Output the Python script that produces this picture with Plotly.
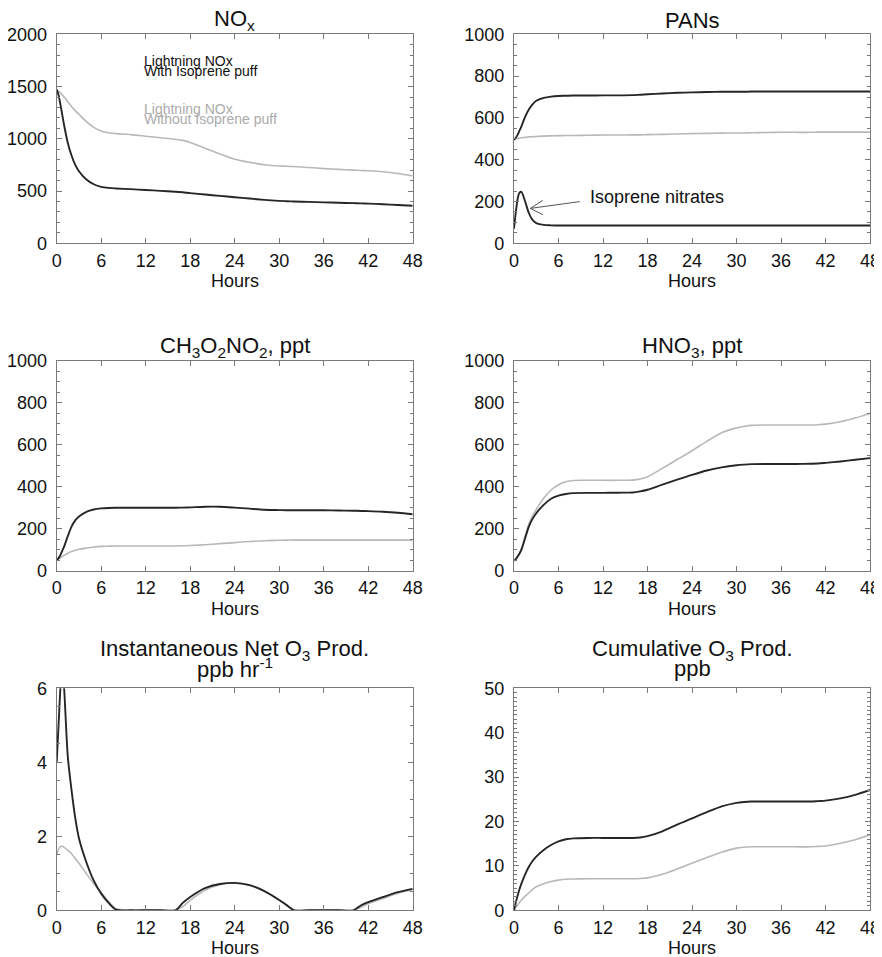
import plotly.graph_objects as go

# ---------------- data ----------------
hours = [0, 0.25, 0.5, 0.75, 1, 1.5, 2, 2.5, 3, 4, 5, 6, 7, 8, 10, 12, 14, 16, 17, 18,
         20, 22, 24, 26, 28, 30, 31, 32, 34, 36, 38, 40, 41, 42, 44, 46, 48]
x_ticks = [0, 6, 12, 18, 24, 30, 36, 42, 48]

nox_with = [1470, 1420, 1330, 1230, 1130, 960, 840, 750, 690, 610, 565, 540, 530, 525, 518, 510,
            502, 494, 488, 480, 467, 454, 441, 428, 416, 406, 403, 400, 396, 392, 388, 384,
            382, 380, 374, 367, 360]
nox_without = [1470, 1455, 1440, 1420, 1400, 1355, 1310, 1270, 1235, 1165, 1110, 1075, 1058,
               1050, 1040, 1025, 1010, 995, 985, 965, 910, 855, 805, 775, 752, 740, 738, 735,
               725, 715, 707, 700, 697, 694, 685, 668, 645]

pans_with = [495, 505, 520, 540, 560, 605, 640, 665, 682, 696, 702, 705, 706, 707, 707, 708,
             708, 709, 711, 713, 717, 720, 722, 724, 725, 725, 725, 726, 726, 726, 726, 726,
             726, 726, 726, 726, 726]
pans_without = [497, 499, 501, 503, 505, 507, 509, 510, 511, 513, 514, 515, 516, 516, 517, 518,
                518, 519, 519, 520, 521, 523, 525, 526, 527, 528, 528, 529, 530, 531, 531, 531,
                532, 532, 532, 532, 532]
isoprene_nitrates = [70, 150, 215, 242, 246, 200, 145, 112, 97, 88, 86, 85, 85, 85, 85, 85,
                     85, 85, 85, 85, 85, 85, 85, 85, 85, 85, 85, 85, 85, 85, 85, 85,
                     85, 85, 85, 85, 85]

mpn_with = [50, 60, 75, 95, 115, 165, 210, 240, 258, 281, 292, 297, 299, 300, 300, 300, 300,
            300, 301, 302, 305, 305, 301, 296, 291, 289, 288, 288, 288, 288, 287, 286, 285,
            284, 281, 276, 269]
mpn_without = [50, 55, 61, 67, 73, 83, 91, 97, 102, 108, 113, 116, 117, 118, 118, 118, 118,
               118, 119, 120, 124, 129, 134, 139, 143, 145, 146, 146, 146, 146, 146, 146, 146,
               146, 146, 146, 146]

hno3_with = [48, 55, 68, 82, 100, 155, 210, 247, 274, 314, 343, 358, 366, 370, 371, 371, 372,
             373, 378, 386, 410, 434, 457, 478, 493, 503, 506, 508, 509, 509, 509, 510, 511,
             514, 521, 529, 537]
hno3_without = [48, 56, 70, 86, 105, 165, 222, 262, 292, 345, 385, 410, 424, 430, 431, 431,
                431, 432, 437, 448, 488, 530, 572, 617, 658, 681, 688, 693, 695, 695, 695, 695,
                696, 699, 710, 728, 750]

o3prod_with = [4.0, 5.0, 6.0, 6.6, 6.0, 4.15, 3.25, 2.5, 1.95, 1.3, 0.8, 0.45, 0.2, 0.02, 0, 0,
               0, 0, 0.2, 0.36, 0.6, 0.71, 0.74, 0.68, 0.52, 0.28, 0.14, 0.0, 0, 0, 0, 0,
               0.13, 0.22, 0.36, 0.49, 0.58]
o3prod_without = [1.5, 1.65, 1.72, 1.73, 1.7, 1.62, 1.53, 1.4, 1.27, 0.99, 0.72, 0.48, 0.24,
                  0.04, 0, 0, 0, 0, 0.1, 0.27, 0.54, 0.69, 0.73, 0.68, 0.52, 0.28, 0.14, 0.01,
                  0, 0, 0, 0, 0.08, 0.18, 0.32, 0.46, 0.56]

o3cum_with = [0, 1.8, 3.4, 4.8, 6.0, 8.1, 9.8, 11.1, 12.1, 13.6, 14.7, 15.5, 16.0, 16.2, 16.3,
              16.3, 16.3, 16.3, 16.4, 16.7, 17.8, 19.3, 20.7, 22.1, 23.4, 24.2, 24.4, 24.5,
              24.5, 24.5, 24.5, 24.5, 24.6, 24.7, 25.2, 26.0, 27.1]
o3cum_without = [0, 0.6, 1.2, 1.8, 2.3, 3.2, 3.9, 4.7, 5.3, 6.0, 6.5, 6.8, 7.0, 7.05, 7.1, 7.1,
                 7.1, 7.1, 7.15, 7.3, 8.1, 9.3, 10.6, 11.9, 13.1, 14.0, 14.2, 14.3, 14.3, 14.3,
                 14.3, 14.3, 14.4, 14.5, 15.1, 15.9, 17.0]

panel_titles = [["NO<sub>x</sub>"], ["PANs"], ["CH<sub>3</sub>O<sub>2</sub>NO<sub>2</sub>, ppt"],
                ["HNO<sub>3</sub>, ppt"],
                ["Instantaneous Net O<sub>3</sub> Prod.", "ppb hr<sup>-1</sup>"],
                ["Cumulative O<sub>3</sub> Prod.", "ppb"]]
y_ranges = [[0, 2000], [0, 1000], [0, 1000], [0, 1000], [0, 6], [0, 50]]
y_dticks = [500, 200, 200, 200, 2, 10]
y_minor = [100, 50, 50, 50, 0.5, 1]
x_title = "Hours"
legend_with = ["Lightning NOx", "With Isoprene puff"]
legend_without = ["Lightning NOx", "Without Isoprene puff"]
nitrate_label = "Isoprene nitrates"

series = [
    (nox_with, nox_without),
    (pans_with, pans_without),
    (mpn_with, mpn_without),
    (hno3_with, hno3_without),
    (o3prod_with, o3prod_without),
    (o3cum_with, o3cum_without),
]

# ---------------- layout (page pixels) ----------------
PAGE_W, PAGE_H = 882, 957
OFF = 8  # default body margin of the html page
W, H = PAGE_W - OFF, PAGE_H - OFF
boxes = [  # left, right, top, bottom in page px
    (56.7, 412.7, 34.3, 243.3),
    (514.0, 870.0, 34.3, 243.3),
    (56.7, 412.7, 361.0, 570.7),
    (514.0, 870.0, 361.0, 570.7),
    (56.7, 412.7, 688.3, 910.3),
    (514.0, 870.0, 688.3, 910.3),
]
FONT = "Liberation Sans, Arial, Helvetica, sans-serif"
BLACK = "#262626"
GRAY = "#b8b8b8"
AXC = "#7a7a7a"


def px(x):
    return (x - OFF) / W


def py(y):
    return 1 - (y - OFF) / H


fig = go.Figure()
layout = dict(width=W, height=H, margin=dict(l=0, r=0, t=0, b=0),
              paper_bgcolor="white", plot_bgcolor="white", showlegend=False,
              font=dict(family=FONT, color="#111"))
annotations = []

for i, (box, (s_with, s_without)) in enumerate(zip(boxes, series)):
    n = i + 1
    xa = "x" if n == 1 else f"x{n}"
    ya = "y" if n == 1 else f"y{n}"
    l, r, t, b = box
    fig.add_trace(go.Scatter(x=hours, y=s_without, mode="lines", xaxis=xa, yaxis=ya,
                             line=dict(color=GRAY, width=1.6, shape="spline", smoothing=0.8),
                             hoverinfo="skip"))
    fig.add_trace(go.Scatter(x=hours, y=s_with, mode="lines", xaxis=xa, yaxis=ya,
                             line=dict(color=BLACK, width=1.9, shape="spline", smoothing=0.8),
                             hoverinfo="skip"))
    if n == 2:
        fig.add_trace(go.Scatter(x=hours, y=isoprene_nitrates, mode="lines", xaxis=xa, yaxis=ya,
                                 line=dict(color=BLACK, width=1.9, shape="spline", smoothing=0.8),
                                 hoverinfo="skip"))
    xname = "xaxis" if n == 1 else f"xaxis{n}"
    yname = "yaxis" if n == 1 else f"yaxis{n}"
    layout[xname] = dict(domain=[px(l), px(r)], anchor=ya, range=[0, 48], tickvals=x_ticks,
                         ticks="inside", ticklen=5, tickwidth=1.2, tickcolor=AXC,
                         showline=True, linecolor=AXC, linewidth=1.3, mirror="allticks",
                         showgrid=False, zeroline=False, automargin=False,
                         tickfont=dict(family=FONT, size=18, color="#111"),
                         ticklabelstandoff=1)
    layout[yname] = dict(domain=[py(b), py(t)], anchor=xa, range=y_ranges[i], dtick=y_dticks[i],
                         tick0=0, ticks="inside", ticklen=5, tickwidth=1.2, tickcolor=AXC,
                         showline=True, linecolor=AXC, linewidth=1.3, mirror="allticks",
                         showgrid=False, zeroline=False, automargin=False,
                         tickfont=dict(family=FONT, size=18, color="#111"),
                         ticklabelstandoff=5,
                         minor=dict(dtick=y_minor[i], tick0=0, ticks="inside", ticklen=3,
                                    tickwidth=1, tickcolor=AXC, showgrid=False))
    cx = (l + r) / 2
    title_lines = panel_titles[i]
    if len(title_lines) == 1:
        annotations.append(dict(text=title_lines[0], x=px(cx), y=py(t - 14), xref="paper",
                                yref="paper", showarrow=False, xanchor="center", yanchor="middle",
                                font=dict(family=FONT, size=22, color="#111")))
    else:
        annotations.append(dict(text=title_lines[0], x=px(cx), y=py(t - 38), xref="paper",
                                yref="paper", showarrow=False, xanchor="center", yanchor="middle",
                                font=dict(family=FONT, size=22, color="#111")))
        annotations.append(dict(text=title_lines[1], x=px(cx), y=py(t - 20), xref="paper",
                                yref="paper", showarrow=False, xanchor="center", yanchor="middle",
                                font=dict(family=FONT, size=22, color="#111")))
    annotations.append(dict(text=x_title, x=px(cx), y=py(b + 38), xref="paper", yref="paper",
                            showarrow=False, xanchor="center", yanchor="middle",
                            font=dict(family=FONT, size=18, color="#111")))

# legend text in NOx panel
for j, txt in enumerate(legend_with):
    annotations.append(dict(text=txt, x=px(142), y=py(61 + 10.5 * j), xref="paper", yref="paper",
                            showarrow=False, xanchor="left", yanchor="middle",
                            font=dict(family=FONT, size=14, color="#111")))
for j, txt in enumerate(legend_without):
    annotations.append(dict(text=txt, x=px(142), y=py(108.5 + 10.5 * j), xref="paper",
                            yref="paper", showarrow=False, xanchor="left", yanchor="middle",
                            font=dict(family=FONT, size=14, color="#ababab")))

# isoprene nitrates label + thin open arrow in PANs panel
annotations.append(dict(text=nitrate_label, x=px(588), y=py(197), xref="paper", yref="paper",
                        showarrow=False, xanchor="left", yanchor="middle",
                        font=dict(family=FONT, size=18, color="#111")))
for ax_off, ay_off in [(51, -7), (14, -9), (14, 7)]:
    annotations.append(dict(text="", x=2.2, y=167, xref="x2", yref="y2", showarrow=True,
                            ax=ax_off, ay=ay_off, arrowhead=0, arrowwidth=1,
                            arrowcolor="#555"))

layout["annotations"] = annotations
fig.update_layout(**layout)
fig.write_html("out.html")
